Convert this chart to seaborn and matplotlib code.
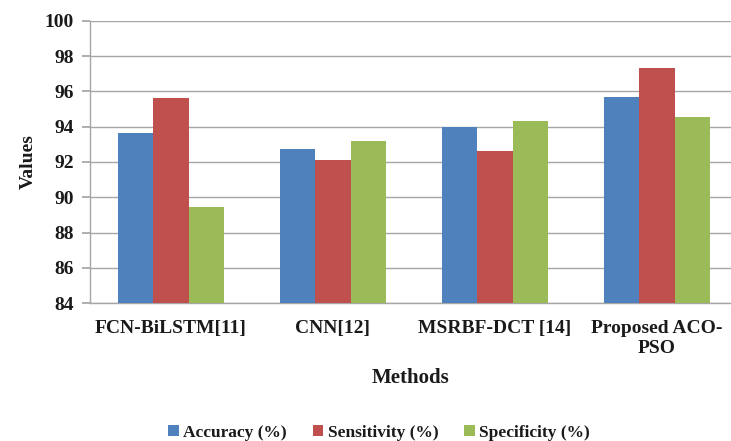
import numpy as np
import pandas as pd
import matplotlib
matplotlib.use("Agg")
import matplotlib.pyplot as plt
import seaborn as sns

# ---------------------------------------------------------
# Data
# ---------------------------------------------------------
methods = ["FCN-BiLSTM[11]", "CNN[12]", "MSRBF-DCT [14]", "Proposed ACO-\nPSO"]
metrics = ["Accuracy (%)", "Sensitivity (%)", "Specificity (%)"]
accuracy = [93.66, 92.72, 94.00, 95.70]
sensitivity = [95.64, 92.13, 92.64, 97.31]
specificity = [89.44, 93.21, 94.32, 94.55]

colors = ["#4F81BD", "#C0504D", "#9BBB59"]

df = pd.DataFrame({
    "Methods": methods * 3,
    "Metric": [metrics[0]] * 4 + [metrics[1]] * 4 + [metrics[2]] * 4,
    "Values": accuracy + sensitivity + specificity,
})

sns.set_theme(style="white")
plt.rcParams["font.family"] = ["Liberation Serif", "DejaVu Serif"]
plt.rcParams["font.weight"] = "bold"

W, H = 731, 441
fig = plt.figure(figsize=(W / 100, H / 100), dpi=100)
ax = fig.add_axes([90 / W, 1 - 303.3 / H, 1 - 90 / W, (303.3 - 20.7) / H])

sns.barplot(data=df, x="Methods", y="Values", hue="Metric", palette=colors,
            width=0.66, gap=0, saturation=1, linewidth=0, ax=ax, zorder=3)

ax.set_ylim(84, 100)
ax.set_yticks(np.arange(84, 101, 2))
ax.set_xlim(-0.5, -0.5 + (W - 90) / 162)
ax.yaxis.grid(True, color="#a6a6a6", linewidth=1.0, zorder=0)
ax.set_axisbelow(True)

for side in ["top", "right"]:
    ax.spines[side].set_visible(False)
for side in ["left", "bottom"]:
    ax.spines[side].set_color("#a6a6a6")
    ax.spines[side].set_linewidth(1.0)

ax.tick_params(axis="y", which="both", left=True, length=6, color="#a6a6a6",
               labelsize=14, pad=5.5)
ax.tick_params(axis="x", which="both", bottom=False, labelsize=14, pad=6)
for lbl in ax.get_xticklabels() + ax.get_yticklabels():
    lbl.set_fontweight("bold")
    lbl.set_color("#1a1a1a")
for lbl in ax.get_xticklabels():
    lbl.set_linespacing(1.25)

ax.set_xlabel("Methods", fontsize=15, fontweight="bold", labelpad=8, color="#1a1a1a")
ax.set_ylabel("Values", fontsize=14, fontweight="bold", labelpad=6, color="#1a1a1a")

leg = ax.legend(loc="center", bbox_to_anchor=((379 - 90) / (W - 90), (303.3 - 433) / (303.3 - 20.7)),
                ncol=3, frameon=False, fontsize=12.5, handlelength=0.6, handleheight=0.6,
                handletextpad=0.25, columnspacing=1.5)
for t in leg.get_texts():
    t.set_fontweight("bold")
    t.set_color("#1a1a1a")

fig.savefig("out.png", dpi=100)
